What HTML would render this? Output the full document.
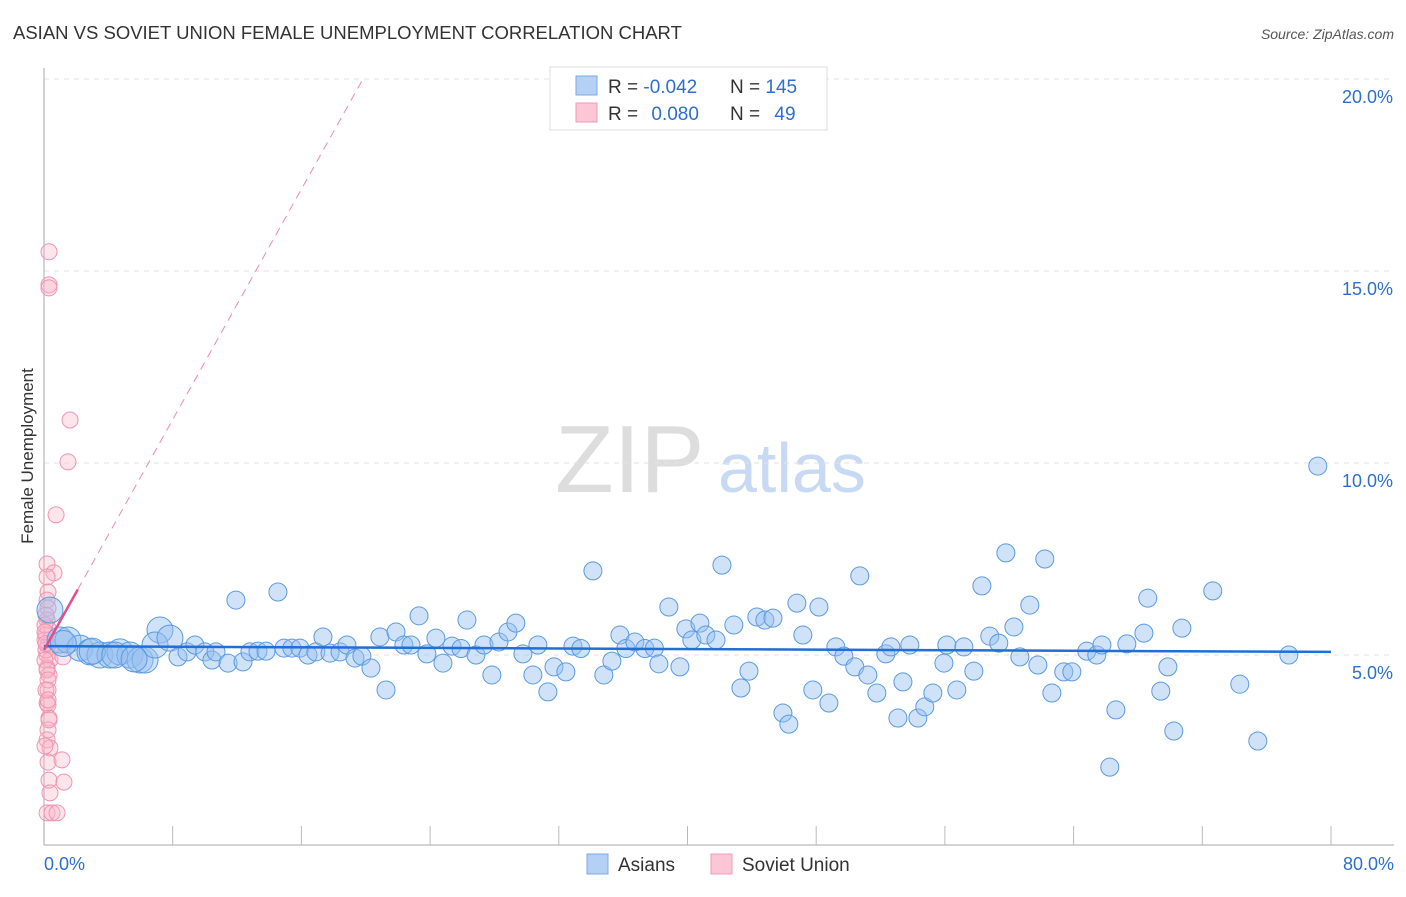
<!DOCTYPE html>
<html><head><meta charset="utf-8"><style>
body{margin:0;background:#fff;font-family:"Liberation Sans",sans-serif}
svg text{font-family:"Liberation Sans",sans-serif}
</style></head><body>
<svg id="c" width="1406" height="892">
<text x="13" y="39" font-size="18.5" fill="#333">ASIAN VS SOVIET UNION FEMALE UNEMPLOYMENT CORRELATION CHART</text>
<text x="1394" y="39" font-size="14" fill="#555" font-style="italic" text-anchor="end">Source: ZipAtlas.com</text>
<text x="33" y="456" font-size="17" fill="#333" transform="rotate(-90 33 456)" text-anchor="middle">Female Unemployment</text>
<text x="555" y="492" font-size="96" fill="#ddd" font-family="Liberation Serif">ZIP</text>
<text x="718" y="492" font-size="70" fill="#c8daf3">atlas</text>
<g id="grid"></g><g id="axes"></g><g id="pts"></g><g id="trend"></g>
<g>
<rect x="550" y="67" width="277" height="63" fill="#fff" stroke="#ddd"/>
<rect x="576" y="76" width="21" height="19" fill="#b5d0f5" stroke="#7aa8e6"/>
<rect x="576" y="103" width="21" height="19" fill="#fbc7d6" stroke="#f09ab4"/>
<text x="608" y="93" font-size="19" fill="#333">R = <tspan fill="#2d6fd0">-0.042</tspan></text>
<text x="730" y="93" font-size="19" fill="#333">N = <tspan fill="#2d6fd0">145</tspan></text>
<text x="608" y="120" font-size="19" fill="#333">R = <tspan fill="#2d6fd0" dx="8">0.080</tspan></text>
<text x="730" y="120" font-size="19" fill="#333">N = <tspan fill="#2d6fd0" dx="9">49</tspan></text>
</g>
<g>
<rect x="587" y="854" width="21" height="20" fill="#b5d0f5" stroke="#7aa8e6"/>
<text x="618" y="871" font-size="19" fill="#333">Asians</text>
<rect x="711" y="854" width="21" height="20" fill="#fbc7d6" stroke="#f09ab4"/>
<text x="742" y="871" font-size="19" fill="#333">Soviet Union</text>
</g>
</svg>
<script>
const yTicks=[5,10,15,20];
const yTickLabels=["5.0%","10.0%","15.0%","20.0%"];
const xTickLabels=["0.0%","80.0%"];
const asianX=[0.37,1.0,1.49,2.24,2.86,3.48,4.10,4.72,5.34,5.97,6.28,7.21,6.90,7.83,8.33,8.89,9.38,10.0,10.44,10.69,11.44,11.93,12.37,12.80,13.30,13.80,14.54,14.92,15.41,15.91,16.41,16.90,17.34,17.78,18.40,18.83,19.33,19.76,20.32,20.88,21.26,21.88,22.37,22.81,23.31,23.80,24.36,24.80,25.36,25.92,26.29,26.85,27.35,27.84,28.28,28.84,29.33,29.77,30.39,30.70,31.32,31.70,32.44,32.88,33.37,34.12,34.80,35.30,35.80,36.17,36.73,37.35,37.94,38.22,38.84,39.53,39.90,40.27,40.77,41.14,41.77,42.14,42.88,43.32,43.82,44.31,44.81,45.31,45.93,46.30,46.80,47.17,47.79,48.17,48.79,49.22,49.72,50.40,50.71,51.21,51.77,52.33,52.64,53.08,53.39,53.82,54.32,54.75,55.25,55.94,56.12,56.74,57.18,57.80,58.30,58.79,59.35,59.79,60.29,60.66,61.28,61.78,62.21,62.65,63.39,63.89,64.82,65.44,65.76,66.25,66.63,67.31,68.37,68.61,69.42,69.86,70.23,70.73,72.65,74.33,75.45,77.38,79.18,1.2,3.0,4.4,5.6];
const asianY=[6.17,5.39,5.39,5.18,5.08,5.0,5.0,5.08,5.0,4.87,4.87,5.65,5.26,5.44,4.95,5.08,5.26,5.08,4.87,5.08,4.79,6.43,4.82,5.08,5.10,5.10,6.64,5.18,5.18,5.18,5.0,5.08,5.47,5.05,5.08,5.26,4.92,4.97,4.66,5.47,4.09,5.60,5.26,5.26,6.02,5.03,5.44,4.79,5.23,5.17,5.91,5.0,5.26,4.48,5.34,5.60,5.83,5.03,4.48,5.26,4.04,4.69,4.56,5.23,5.17,7.19,4.48,4.84,5.52,5.17,5.34,5.17,5.18,4.77,6.25,4.69,5.68,5.39,5.83,5.52,5.39,7.34,5.78,4.14,4.58,5.99,5.91,5.96,3.49,3.20,6.35,5.52,4.09,6.25,3.75,5.21,4.97,4.69,7.06,4.48,4.01,5.03,5.21,3.36,4.30,5.26,3.36,3.65,4.01,4.79,5.26,4.09,5.21,4.58,6.80,5.49,5.31,7.66,5.73,4.95,6.30,4.74,7.50,4.01,4.56,4.56,5.10,5.0,5.26,2.08,3.57,5.29,5.57,6.48,4.06,4.69,3.02,5.70,6.67,4.24,2.76,5.0,9.92,5.3,5.1,5.0,4.9];
const sovietX=[0.31,0.31,0.31,1.62,1.49,0.75,0.19,0.62,0.19,0.25,0.19,0.25,0.19,0.25,0.12,0.25,0.19,0.37,1.18,0.19,0.31,0.25,0.19,0.25,0.31,0.25,0.19,0.37,0.25,1.12,0.31,1.24,0.37,0.19,0.5,0.81,0.12,0.06,0.06,0.06,0.12,0.19,0.25,0.06,0.12,0.25,0.31,0.06,0.12];
const sovietY=[15.5,14.64,14.56,11.12,10.03,8.65,7.37,7.14,7.03,6.64,6.43,6.22,5.91,5.70,5.52,5.26,5.0,4.87,4.95,4.66,4.48,4.09,3.75,3.70,3.36,3.05,2.79,2.58,2.21,2.27,1.74,1.69,1.41,0.89,0.89,0.89,5.13,5.39,5.78,4.87,6.04,4.61,4.35,2.63,4.09,3.83,3.31,5.6,5.3];
const asianTrend=[5.23,5.08];
const sovietTrend=[5.13,0.75];
const X0=44,X1=1331,Y0=847,PY=38.4;
const sx=v=>X0+(X1-X0)*v/80, sy=v=>Y0-PY*v;
const NS="http://www.w3.org/2000/svg";
function mk(tag,at,par){const e=document.createElementNS(NS,tag);for(const k in at)e.setAttribute(k,at[k]);document.getElementById(par).appendChild(e);return e;}
yTicks.forEach((t,i)=>{
 const g=mk('line',{x1:X0,x2:1394,y1:sy(t),y2:sy(t),stroke:'#e2e2e2','stroke-dasharray':'5,5'},'grid');
 
 
 const l=mk('text',{x:1393,y:sy(t)+24,'font-size':18,fill:'#2d6fd0','text-anchor':'end'},'grid');l.textContent=yTickLabels[i];
 
 
});
let a=mk('line',{x1:X0,x2:X0,y1:68,y2:845,stroke:'#aaa'},'axes');


a=mk('line',{x1:X0,x2:1394,y1:845,y2:845,stroke:'#aaa'},'axes');


for(let i=1;i<=10;i++){const t=mk('line',{x1:sx(i*8),x2:sx(i*8),y1:826,y2:845,stroke:'#bbb'},'axes');
 
 }
[[0,'start',X0],[80,'end',1394]].forEach((p,i)=>{const t=mk('text',{x:p[2],y:870,'font-size':18,fill:'#2d6fd0','text-anchor':p[1]},'axes');t.textContent=xTickLabels[i];
 
 });
sovietX.forEach((x,i)=>{const c=mk('circle',{cx:sx(x),cy:sy(sovietY[i]),r:8,fill:'rgba(248,180,200,0.35)',stroke:'#f094b2','stroke-width':1},'pts');
 
 });
asianX.forEach((x,i)=>{const c=mk('circle',{cx:sx(x),cy:sy(asianY[i]),r:x<8?13:9,fill:'rgba(150,190,240,0.45)',stroke:'#5b9be0','stroke-width':1},'pts');
 
 });
let t=mk('line',{x1:sx(0),y1:sy(asianTrend[0]),x2:sx(80),y2:sy(asianTrend[1]),stroke:'#1f6fd6','stroke-width':2.5},'trend');


const xe=(20-sovietTrend[0])/sovietTrend[1];
t=mk('line',{x1:sx(2.1),y1:sy(sovietTrend[0]+sovietTrend[1]*2.1),x2:sx(xe),y2:sy(20),stroke:'#ee8aaa','stroke-width':1,'stroke-dasharray':'8,6'},'trend');


t=mk('line',{x1:sx(0),y1:sy(sovietTrend[0]),x2:sx(2.1),y2:sy(sovietTrend[0]+sovietTrend[1]*2.1),stroke:'#e0508a','stroke-width':2.5},'trend');


</script>
</body></html>
